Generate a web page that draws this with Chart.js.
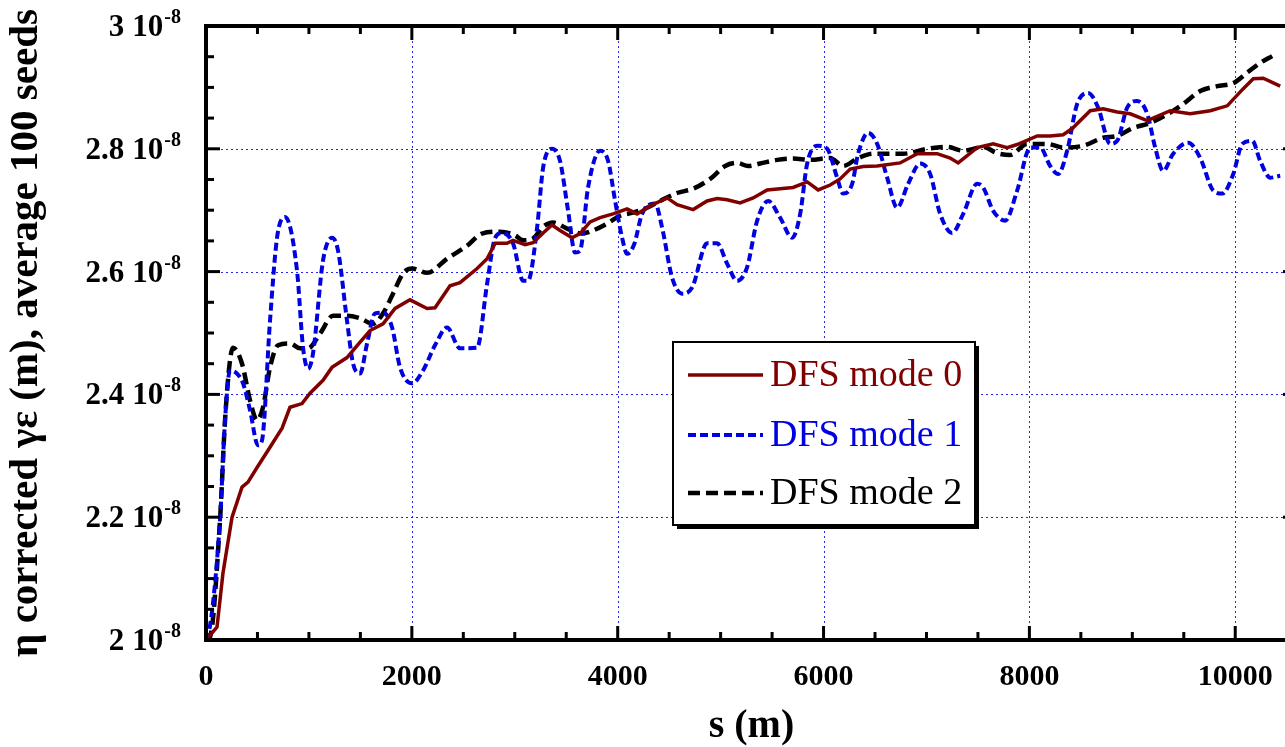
<!DOCTYPE html>
<html>
<head>
<meta charset="utf-8">
<script src="https://cdn.jsdelivr.net/npm/chart.js"></script>
<style>
  html, body { margin: 0; padding: 0; background: #fff; overflow: hidden; }
  #wrap { width: 1300px; height: 747px; }
</style>
</head>
<body>
<div id="wrap"><canvas id="emitchart"></canvas></div>
<script>
// positions along the linac (m); emittance in units of 1e-8 m
const s0 = [0,107,165,253,350,408,496,622,739,816,933,1011,1137,1224,1370,1497,1594,1720,1837,1982,
  2148,2225,2371,2468,2634,2731,2809,2925,2983,3100,3178,3275,3362,3440,3557,3634,3732,3829,3955,4091,
  4188,4315,4480,4577,4733,4869,4966,5063,5189,5316,5452,5578,5704,5841,5948,6064,6161,6259,6385,6521,
  6744,6910,7104,7230,7308,7493,7648,7784,7881,8076,8202,8328,8416,8591,8717,8853,8979,9145,9368,9563,
  9757,9922,10078,10175,10272,10437];
const mode0 = [2.000,2.021,2.109,2.200,2.249,2.257,2.281,2.314,2.345,2.379,2.385,2.402,2.423,2.444,2.460,2.485,2.504,2.515,2.540,2.554,
  2.540,2.541,2.577,2.582,2.605,2.621,2.646,2.646,2.651,2.644,2.647,2.663,2.676,2.667,2.655,2.662,2.681,2.688,2.694,2.702,
  2.694,2.707,2.720,2.709,2.701,2.715,2.719,2.717,2.712,2.720,2.733,2.735,2.737,2.746,2.733,2.741,2.751,2.767,2.771,2.772,
  2.777,2.792,2.792,2.785,2.777,2.802,2.808,2.802,2.807,2.821,2.821,2.823,2.833,2.862,2.865,2.860,2.857,2.846,2.862,2.857,
  2.862,2.870,2.898,2.914,2.915,2.902];

const s1 = [0,19,136,185,233,301,360,428,505,544,622,690,768,884,943,991,1040,1137,1224,1283,
  1370,1429,1497,1565,1642,1720,1808,1885,2002,2109,2225,2342,2468,2634,2731,2809,2877,2983,3081,3129,
  3217,3275,3362,3440,3518,3586,3634,3712,3829,3907,3975,4043,4091,4159,4237,4363,4431,4529,4626,4723,
  4869,4966,5063,5160,5257,5355,5462,5578,5695,5773,5841,5938,6035,6132,6190,6278,6336,6433,6521,6618,
  6715,6822,6939,7036,7133,7250,7357,7493,7551,7648,7765,7881,8008,8105,8202,8280,8367,8464,8571,8668,
  8785,8853,8950,9047,9145,9222,9300,9397,9543,9660,9786,9874,9981,10068,10165,10243,10340,10437];
const mode1 = [2.000,2.005,2.195,2.358,2.439,2.434,2.418,2.374,2.317,2.325,2.520,2.655,2.689,2.602,2.476,2.442,2.467,2.618,2.655,2.634,
  2.520,2.450,2.434,2.483,2.532,2.533,2.509,2.444,2.418,2.439,2.480,2.509,2.475,2.476,2.580,2.655,2.663,2.646,2.585,2.585,
  2.672,2.769,2.800,2.780,2.699,2.631,2.634,2.737,2.797,2.780,2.715,2.655,2.629,2.644,2.694,2.711,2.672,2.590,2.564,2.574,
  2.646,2.646,2.613,2.585,2.607,2.683,2.715,2.688,2.655,2.694,2.776,2.805,2.800,2.753,2.727,2.743,2.792,2.826,2.808,2.753,
  2.704,2.743,2.776,2.759,2.694,2.663,2.694,2.743,2.737,2.699,2.683,2.732,2.802,2.802,2.772,2.759,2.797,2.873,2.891,2.867,
  2.808,2.813,2.867,2.878,2.857,2.802,2.764,2.792,2.810,2.785,2.732,2.727,2.759,2.808,2.813,2.780,2.753,2.756];

const s2 = [0,39,136,185,233,262,350,428,496,554,622,700,816,913,991,1108,1234,1370,1497,1623,
  1720,1817,1914,2002,2148,2342,2536,2682,2857,3003,3081,3178,3275,3372,3508,3654,3761,3897,4023,4150,
  4286,4412,4577,4733,4898,5044,5160,5267,5384,5549,5704,5870,6064,6190,6326,6482,6773,7007,7201,7357,
  7551,7687,7813,7978,8173,8328,8523,8717,8853,9008,9173,9368,9494,9660,9825,9981,10116,10243,10359];
const mode2 = [2.000,2.005,2.195,2.358,2.455,2.476,2.450,2.390,2.358,2.379,2.444,2.480,2.483,2.475,2.475,2.499,2.528,2.528,2.524,2.515,
  2.532,2.564,2.597,2.605,2.598,2.621,2.642,2.662,2.665,2.659,2.651,2.654,2.673,2.680,2.670,2.662,2.667,2.678,2.691,2.696,
  2.704,2.715,2.728,2.735,2.751,2.772,2.777,2.772,2.776,2.782,2.784,2.782,2.785,2.772,2.784,2.792,2.792,2.800,2.803,2.797,
  2.803,2.793,2.790,2.808,2.808,2.802,2.805,2.818,2.821,2.834,2.842,2.859,2.873,2.894,2.902,2.907,2.924,2.940,2.951];

const seriesNames = ['DFS mode 0', 'DFS mode 1', 'DFS mode 2'];
const xTickValues = [0, 2000, 4000, 6000, 8000, 10000];
const yTickValues = [2.0, 2.2, 2.4, 2.6, 2.8, 3.0];
const yTickLabels = ['2', '2.2', '2.4', '2.6', '2.8', '3'];
const yExponent = '-8';

const pts = (xs, ys) => xs.map((v, i) => ({x: v, y: ys[i]}));
const serif = 'Liberation Serif';

// grid, boxed frame with inward ticks, y labels with exponent, legend box
const framePlugin = {
  id: 'frame',
  beforeDatasetsDraw(chart) {
    const {ctx, chartArea: a, scales: {x, y}} = chart;
    ctx.save();
    ctx.strokeStyle = 'rgba(0,0,235,0.85)';
    ctx.lineWidth = 1;
    ctx.setLineDash([2, 3]);
    xTickValues.forEach(v => {
      if (v <= x.min || v >= x.max) return;
      const px = Math.round(x.getPixelForValue(v)) + 0.5;
      ctx.beginPath(); ctx.moveTo(px, a.top); ctx.lineTo(px, a.bottom); ctx.stroke();
    });
    yTickValues.forEach(v => {
      if (v <= y.min || v >= y.max) return;
      const py = Math.round(y.getPixelForValue(v)) + 0.5;
      ctx.beginPath(); ctx.moveTo(a.left, py); ctx.lineTo(a.right, py); ctx.stroke();
    });
    ctx.restore();
  },
  afterDatasetsDraw(chart) {
    const {ctx, chartArea: a, scales: {x, y}} = chart;
    ctx.save();
    ctx.strokeStyle = '#000';
    ctx.lineWidth = 4;
    ctx.setLineDash([]);
    ctx.strokeRect(a.left, a.top, a.right - a.left, a.bottom - a.top);
    ctx.lineWidth = 3;
    for (let v = 500; v < x.max; v += 500) {
      const px = x.getPixelForValue(v);
      const len = v % 2000 === 0 ? 14 : 8;
      ctx.beginPath(); ctx.moveTo(px, a.bottom); ctx.lineTo(px, a.bottom - len); ctx.stroke();
      ctx.beginPath(); ctx.moveTo(px, a.top); ctx.lineTo(px, a.top + len); ctx.stroke();
    }
    for (let i = 1; i < 20; i++) {
      const py = y.getPixelForValue(2 + i * 0.05);
      const len = i % 4 === 0 ? 14 : 8;
      ctx.beginPath(); ctx.moveTo(a.left, py); ctx.lineTo(a.left + len, py); ctx.stroke();
      ctx.beginPath(); ctx.moveTo(a.right, py); ctx.lineTo(a.right - len, py); ctx.stroke();
    }
    ctx.restore();
  },
  afterDraw(chart) {
    const {ctx, scales: {y}} = chart;
    ctx.save();
    ctx.fillStyle = '#000';
    ctx.textBaseline = 'alphabetic';
    ctx.textAlign = 'right';
    const right = 181;
    yTickValues.forEach((v, i) => {
      const py = y.getPixelForValue(v);
      ctx.font = 'bold 20px ' + serif;
      const w = ctx.measureText(yExponent).width;
      ctx.fillText(yExponent, right, py - 3);
      ctx.font = 'bold 31px ' + serif;
      const tenRight = right - w - 1;
      const w10 = ctx.measureText('10').width;
      ctx.fillText('10', tenRight, py + 10);
      ctx.fillText(yTickLabels[i], tenRight - w10 - 8, py + 10);
    });

    // legend box
    const bx = 673, by = 342, bw = 302, bh = 183;
    ctx.fillStyle = '#000';
    ctx.fillRect(bx + 4, by + 4, bw, bh);
    ctx.fillStyle = '#fff';
    ctx.fillRect(bx, by, bw, bh);
    ctx.strokeStyle = '#000';
    ctx.lineWidth = 2;
    ctx.strokeRect(bx, by, bw, bh);
    const rows = [375, 435, 493];
    ctx.textAlign = 'left';
    ctx.textBaseline = 'middle';
    ctx.font = '38px ' + serif;
    chart.data.datasets.forEach((ds, i) => {
      ctx.strokeStyle = ds.borderColor;
      ctx.lineWidth = ds.borderWidth;
      ctx.setLineDash(ds.borderDash || []);
      ctx.beginPath(); ctx.moveTo(688, rows[i]); ctx.lineTo(763, rows[i]); ctx.stroke();
      ctx.setLineDash([]);
      ctx.fillStyle = ds.borderColor;
      ctx.fillText(ds.label, 770, rows[i] + 1);
    });
    ctx.restore();
  }
};

const emitconfig = {
  type: 'line',
  data: {
    datasets: [
      { label: seriesNames[0], data: pts(s0, mode0), borderColor: '#800000', borderWidth: 3.5,
        pointRadius: 0, tension: 0, fill: false },
      { label: seriesNames[1], data: pts(s1, mode1), borderColor: '#0000e0', borderWidth: 4, borderDash: [8, 4],
        pointRadius: 0, cubicInterpolationMode: 'monotone', fill: false },
      { label: seriesNames[2], data: pts(s2, mode2), borderColor: '#000000', borderWidth: 4.5, borderDash: [12, 6],
        pointRadius: 0, cubicInterpolationMode: 'monotone', fill: false }
    ]
  },
  options: {
    responsive: true,
    maintainAspectRatio: false,
    animation: false,
    devicePixelRatio: 1,
    layout: { padding: { top: 26, right: 3, bottom: 0, left: 0 } },
    plugins: { legend: { display: false }, tooltip: { enabled: false } },
    scales: {
      x: {
        type: 'linear', min: 0, max: 10600,
        afterBuildTicks: s => { s.ticks = xTickValues.map(v => ({value: v})); },
        afterFit: s => { s.height = 107; },
        ticks: { color: '#000', padding: 19, maxRotation: 0, autoSkip: false,
          font: { family: serif, size: 30, weight: 'bold' }, callback: v => String(v) },
        grid: { display: false, drawTicks: false },
        border: { display: false },
        title: { display: true, text: 's (m)', color: '#000',
          font: { family: serif, size: 40, weight: 'bold', lineHeight: 1 }, padding: { top: 0, bottom: 0 } }
      },
      y: {
        type: 'linear', min: 2.0, max: 3.0,
        afterBuildTicks: s => { s.ticks = yTickValues.map(v => ({value: v})); },
        afterFit: s => { s.width = 206; },
        ticks: { display: false },
        grid: { display: false, drawTicks: false },
        border: { display: false },
        title: { display: true, text: 'η corrected γε (m), average 100 seeds', color: '#000',
          font: { family: serif, size: 41, weight: 'bold', lineHeight: 1 }, padding: { top: 6, bottom: 0 } }
      }
    }
  },
  plugins: [framePlugin]
};

const emitchart = new Chart(document.getElementById('emitchart'), emitconfig);
</script>
</body>
</html>
